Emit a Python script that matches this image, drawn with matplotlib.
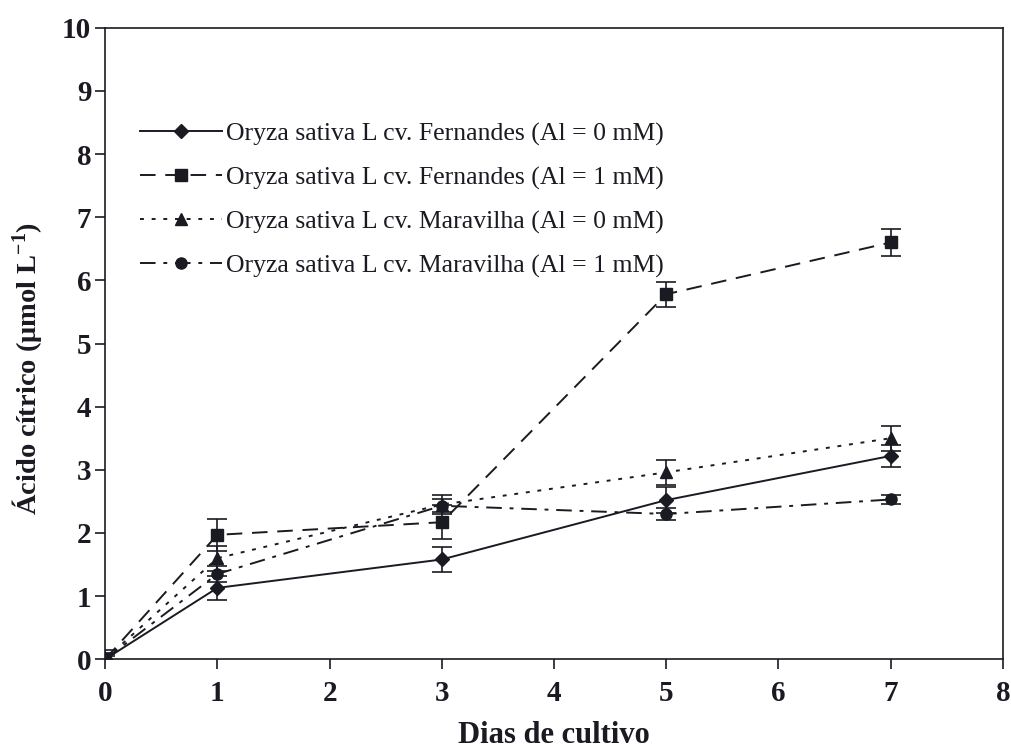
import matplotlib

matplotlib.use("Agg")
import matplotlib.pyplot as plt

plt.rcParams["font.family"] = ["Liberation Serif", "DejaVu Serif"]
plt.rcParams["mathtext.fontset"] = "custom"
plt.rcParams["mathtext.rm"] = "Liberation Serif"
plt.rcParams["mathtext.bf"] = "Liberation Serif:bold"
plt.rcParams["mathtext.default"] = "bf"

days = [0, 1, 3, 5, 7]

fern_0 = [0.0, 1.13, 1.58, 2.52, 3.22]
fern_0_err = [0.08, 0.19, 0.2, 0.2, 0.18]

fern_1 = [0.0, 1.97, 2.17, 5.78, 6.6]
fern_1_err = [0.15, 0.25, 0.27, 0.2, 0.21]

mara_0 = [0.0, 1.6, 2.45, 2.96, 3.5]
mara_0_err = [0.1, 0.2, 0.15, 0.2, 0.2]

mara_1 = [0.0, 1.35, 2.43, 2.3, 2.53]
mara_1_err = [0.05, 0.12, 0.1, 0.1, 0.07]

labels = [
    "Oryza sativa L cv. Fernandes (Al = 0 mM)",
    "Oryza sativa L cv. Fernandes (Al = 1 mM)",
    "Oryza sativa L cv. Maravilha (Al = 0 mM)",
    "Oryza sativa L cv. Maravilha (Al = 1 mM)",
]
series = [
    (fern_0, fern_0_err, "-", "D", 7),
    (fern_1, fern_1_err, (0, (8, 5)), "s", 8),
    (mara_0, mara_0_err, (0, (2, 4)), "^", 9),
    (mara_1, mara_1_err, (0, (8, 4, 2, 4)), "o", 8),
]

color = "#1a1a22"

fig = plt.figure(figsize=(10.11, 7.5), dpi=100)
ax = fig.add_axes([0.104, 0.121, 0.888, 0.842])

for (vals, errs, ls, mk, ms), lab in zip(series, labels):
    ax.errorbar(
        days,
        vals,
        yerr=errs,
        color=color,
        linestyle=ls,
        linewidth=1.4,
        marker=mk,
        markersize=ms,
        capsize=7,
        elinewidth=1.2,
        capthick=1.2,
        label=lab,
    )

ax.set_xlim(0, 8)
ax.set_ylim(0, 10)
ax.set_xticks(range(0, 9))
ax.set_yticks(range(0, 11))
ax.tick_params(labelsize=21, length=7, width=1.2, color=color, labelcolor=color)
for lbl in ax.get_xticklabels() + ax.get_yticklabels():
    lbl.set_fontweight("bold")
ax.tick_params(axis="x", pad=8)
ax.tick_params(axis="y", pad=3)
for sp in ax.spines.values():
    sp.set_color(color)
    sp.set_linewidth(1.2)

ax.set_xlabel("Dias de cultivo", fontsize=22, fontweight="bold", color=color, labelpad=10)
ax.set_ylabel(
    r"Ácido cítrico (μmol L$^{-1}$)",
    fontsize=20.5,
    fontweight="bold",
    color=color,
)
ax.yaxis.set_label_coords(-0.068, 0.46)

handles, labs = ax.get_legend_handles_labels()
handles = [h[0] for h in handles]
ax.legend(
    handles,
    labs,
    loc="upper left",
    bbox_to_anchor=(0.039, 0.85),
    borderaxespad=0,
    borderpad=0,
    frameon=False,
    fontsize=18.5,
    handlelength=3.2,
    handletextpad=0.15,
    labelspacing=0.8,
    labelcolor=color,
)

fig.savefig("out.png", dpi=100)
